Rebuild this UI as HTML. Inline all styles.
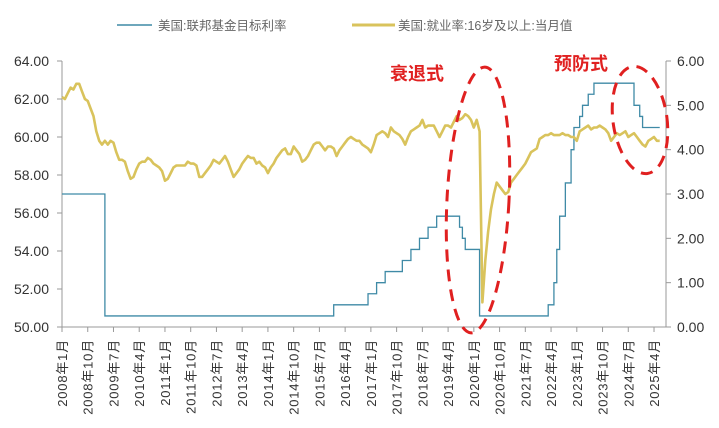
<!DOCTYPE html>
<html><head><meta charset="utf-8"><style>
body{margin:0;background:#fff;}
svg{display:block;font-family:"Liberation Sans","Noto Sans CJK SC",sans-serif;}
</style></head><body>
<svg id="c" width="719" height="428" viewBox="0 0 719 428">
<g>
<line x1="117" y1="25" x2="152" y2="25" stroke="#3f8aa6" stroke-width="1.5"/>
<text x="158" y="30" font-size="12.5" fill="#666">美国:联邦基金目标利率</text>
<line x1="352" y1="25" x2="395" y2="25" stroke="#d9c35c" stroke-width="3"/>
<text x="398" y="30" font-size="12.5" fill="#666">美国:就业率:16岁及以上:当月值</text>
</g>
<g id="axes"></g>
<g id="series"></g>
<g>
<text x="390" y="80" font-size="18" font-weight="bold" fill="#e02020">衰退式</text>
<text x="554" y="70" font-size="18" font-weight="bold" fill="#e02020">预防式</text>
<ellipse cx="478" cy="200" rx="31" ry="133" transform="rotate(3 478 200)" fill="none" stroke="#e02020" stroke-width="3" stroke-dasharray="12 8"/>
<ellipse cx="640" cy="120" rx="27" ry="54" transform="rotate(-8 640 120)" fill="none" stroke="#e02020" stroke-width="3" stroke-dasharray="12 8"/>
</g>
</svg>
<script>
const leftTicks=["50.00","52.00","54.00","56.00","58.00","60.00","62.00","64.00"];
const rightTicks=["0.00","1.00","2.00","3.00","4.00","5.00","6.00"];
const xLabels=["2008年1月","2008年10月","2009年7月","2010年4月","2011年1月","2011年10月","2012年7月","2013年4月","2014年1月","2014年10月","2015年7月","2016年4月","2017年1月","2017年10月","2018年7月","2019年4月","2020年1月","2020年10月","2021年7月","2022年4月","2023年1月","2023年10月","2024年7月","2025年4月"];
const empValues=[62.1,62.0,62.3,62.6,62.5,62.8,62.8,62.4,62.0,61.9,
61.5,61.1,60.3,59.8,59.6,59.8,59.6,59.8,59.7,59.2,
58.8,58.8,58.7,58.2,57.8,57.9,58.3,58.6,58.7,58.7,
58.9,58.8,58.6,58.5,58.4,58.2,57.7,57.8,58.1,58.4,
58.5,58.5,58.5,58.5,58.7,58.6,58.6,58.5,57.9,57.9,
58.1,58.3,58.5,58.8,58.7,58.6,58.8,59.0,58.7,58.3,
57.9,58.1,58.3,58.6,58.8,59.0,58.9,58.9,58.6,58.7,
58.5,58.4,58.1,58.4,58.6,58.9,59.1,59.3,59.4,59.1,
59.1,59.5,59.3,59.1,58.7,58.8,59.0,59.3,59.6,59.7,
59.7,59.5,59.3,59.5,59.5,59.4,59.0,59.3,59.5,59.7,
59.9,60.0,59.9,59.8,59.8,59.6,59.5,59.4,59.2,59.6,
60.1,60.2,60.3,60.2,60.0,60.5,60.3,60.2,60.1,59.9,
59.6,60.0,60.3,60.4,60.5,60.6,60.9,60.5,60.6,60.6,
60.6,60.3,60.0,60.3,60.6,60.6,60.5,60.8,61.1,60.9,
61.0,61.2,61.1,60.9,60.5,60.9,60.3,51.3,53.5,55.0,
56.2,57.0,57.6,57.4,57.2,57.0,57.1,57.6,57.8,58.0,
58.2,58.4,58.6,58.9,59.2,59.3,59.4,59.9,60.0,60.1,
60.1,60.2,60.1,60.1,60.1,60.2,60.1,60.1,60.0,60.0,
59.8,60.3,60.4,60.5,60.6,60.4,60.5,60.5,60.6,60.5,
60.4,60.2,59.8,60.0,60.2,60.1,60.2,60.3,60.0,60.1,
60.2,60.0,59.8,59.6,59.5,59.8,59.9,60.0,59.8,59.8];
const fedChangeMonth=[0,15,95,107,110,113,119,122,125,128,131,139,140,141,146,170,172,173,174,176,178,179,181,182,184,186,200,202,203];
const fedChangeRate=[3.0,0.25,0.5,0.75,1.0,1.25,1.5,1.75,2.0,2.25,2.5,2.25,2.0,1.75,0.25,0.5,1.0,1.75,2.5,3.25,4.0,4.5,4.75,5.0,5.25,5.5,5.0,4.75,4.5];
const lastMonth=209;

const NS="http://www.w3.org/2000/svg";
const X0=62,X1=666,YB=327,YT=61,PXM=2.86;
const xs=i=>X0+i*PXM;
const yL=v=>YB-(v-50)/14*(YB-YT);
const yR=v=>YB-v/6*(YB-YT);
function mk(tag,attrs,parent){const e=document.createElementNS(NS,tag);for(const k in attrs)e.setAttribute(k,attrs[k]);parent.appendChild(e);return e;}
const axes=document.getElementById('axes'),series=document.getElementById('series');

let la=mk('line',{x1:X0,y1:YT,x2:X0,y2:YB,stroke:'#999'},axes);


let ra=mk('line',{x1:X1,y1:YT,x2:X1,y2:YB,stroke:'#999'},axes);


let xa=mk('line',{x1:X0,y1:YB,x2:X1,y2:YB,stroke:'#999'},axes);


leftTicks.forEach(t=>{const y=yL(parseFloat(t));
 mk('line',{x1:X0-5,y1:y,x2:X0,y2:y,stroke:'#999'},axes);
 const e=mk('text',{x:X0-13,y:y+5,'font-size':14,'text-anchor':'end',fill:'#333'},axes);e.textContent=t;
 
 });
rightTicks.forEach(t=>{const y=yR(parseFloat(t));
 mk('line',{x1:X1,y1:y,x2:X1+5,y2:y,stroke:'#999'},axes);
 const e=mk('text',{x:X1+11,y:y+5,'font-size':14,fill:'#333'},axes);e.textContent=t;
 
 });
xLabels.forEach((t,i)=>{const x=xs(i*9);
 mk('line',{x1:x,y1:YB,x2:x,y2:YB+5,stroke:'#999'},axes);
 const e=mk('text',{x:0,y:0,'font-size':13,'letter-spacing':'0.8','text-anchor':'end',fill:'#333',transform:`translate(${x+5},${YB+12}) rotate(-90)`},axes);e.textContent=t;
 
 });

let d='';
for(let k=0;k<fedChangeMonth.length;k++){
 const x=xs(fedChangeMonth[k]),y=yR(fedChangeRate[k]);
 d+=(k===0?'M':'L')+x+','+y;
 const xn=xs(k+1<fedChangeMonth.length?fedChangeMonth[k+1]:lastMonth);
 d+='L'+xn+','+y;
}
let fed=mk('path',{d:d,fill:'none',stroke:'#3f8aa6','stroke-width':1.3},series);


let d2=empValues.map((v,i)=>(i?'L':'M')+xs(i).toFixed(1)+','+yL(v).toFixed(1)).join('');
let emp=mk('path',{d:d2,fill:'none',stroke:'#d9c35c','stroke-width':2.6,'stroke-linejoin':'round'},series);


</script>
</body></html>
